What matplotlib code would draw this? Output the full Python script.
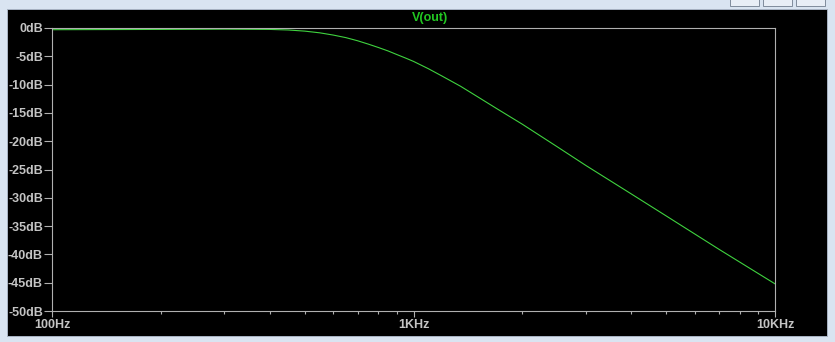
import matplotlib
matplotlib.use('Agg')
import matplotlib.pyplot as plt
from matplotlib.patches import Rectangle

# values
freq = [100, 200, 300, 400, 450, 500, 550, 600, 650, 700, 750, 800, 850, 900, 950, 1000,
        1100, 1200, 1350, 1500, 1700, 2000, 2500, 3000, 4000, 5000, 7000, 10000]
gain_db = [-0.30, -0.25, -0.20, -0.25, -0.35, -0.55, -0.85, -1.25, -1.70, -2.25, -2.85, -3.45,
           -4.05, -4.70, -5.30, -5.90, -7.20, -8.50, -10.3, -12.1, -14.25, -17.0, -21.0, -24.3,
           -29.3, -33.2, -39.1, -45.2]
y_ticks = [0, -5, -10, -15, -20, -25, -30, -35, -40, -45, -50]
x_ticks = [100, 1000, 10000]
x_labels = ['100Hz', '1KHz', '10KHz']
x_minor = [200, 300, 400, 500, 600, 700, 800, 900,
           2000, 3000, 4000, 5000, 6000, 7000, 8000, 9000]
trace_name = 'V(out)'

plt.rcParams['font.family'] = ['Liberation Sans', 'DejaVu Sans']

W, H = 835, 342
fig = plt.figure(figsize=(W / 100, H / 100), dpi=100, facecolor='#d9e4f1')

# black plot pane of the LTspice window (kept behind the axes)
fig.patches.append(Rectangle((7 / W, 1 - 336 / H), 820 / W, 327 / H,
                             transform=fig.transFigure, facecolor='black',
                             edgecolor='#a8b4c4', lw=0.7, zorder=-10))
# window buttons, top right
for bx in [730, 763, 796]:
    fig.patches.append(Rectangle((bx / W, 1 - 6 / H), 29 / W, 9 / H,
                                 transform=fig.transFigure, facecolor='#e8eef6',
                                 edgecolor='#7f8c9c', lw=0.7, zorder=-10))

ax = fig.add_axes([52 / W, 1 - 311 / H, 723 / W, 283 / H])
ax.set_zorder(5)
ax.set_facecolor('black')
ax.semilogx(freq, gain_db, color='#3fd23f', lw=0.8)
ax.set_xlim(100, 10000)
ax.set_ylim(-50, 0)

grey = '#c4c4c4'
for s in ax.spines.values():
    s.set_color('#b0b0b0')
    s.set_linewidth(0.8)

ax.set_yticks(y_ticks)
ax.set_yticklabels([f'{v}dB' for v in y_ticks])
ax.set_xticks(x_ticks)
ax.set_xticklabels(x_labels)
ax.set_xticks(x_minor, minor=True)
ax.set_xticklabels([], minor=True)

ax.tick_params(axis='y', direction='out', length=6, width=0.8, color='#b0b0b0',
               labelcolor=grey, labelsize=9, pad=0.5)
ax.tick_params(axis='x', which='major', direction='out', length=4, width=0.8,
               color='#b0b0b0', labelcolor=grey, labelsize=9, pad=1.5)
ax.tick_params(axis='x', which='minor', direction='out', length=2.5, width=0.8,
               color='#b0b0b0')
for lbl in ax.get_xticklabels() + ax.get_yticklabels():
    lbl.set_fontweight('bold')

fig.text(430 / W, 1 - 18 / H, trace_name, ha='center', va='center',
         color='#22c822', fontsize=9, fontweight='bold', zorder=6)

fig.savefig('out.png', dpi=100, facecolor=fig.get_facecolor())
